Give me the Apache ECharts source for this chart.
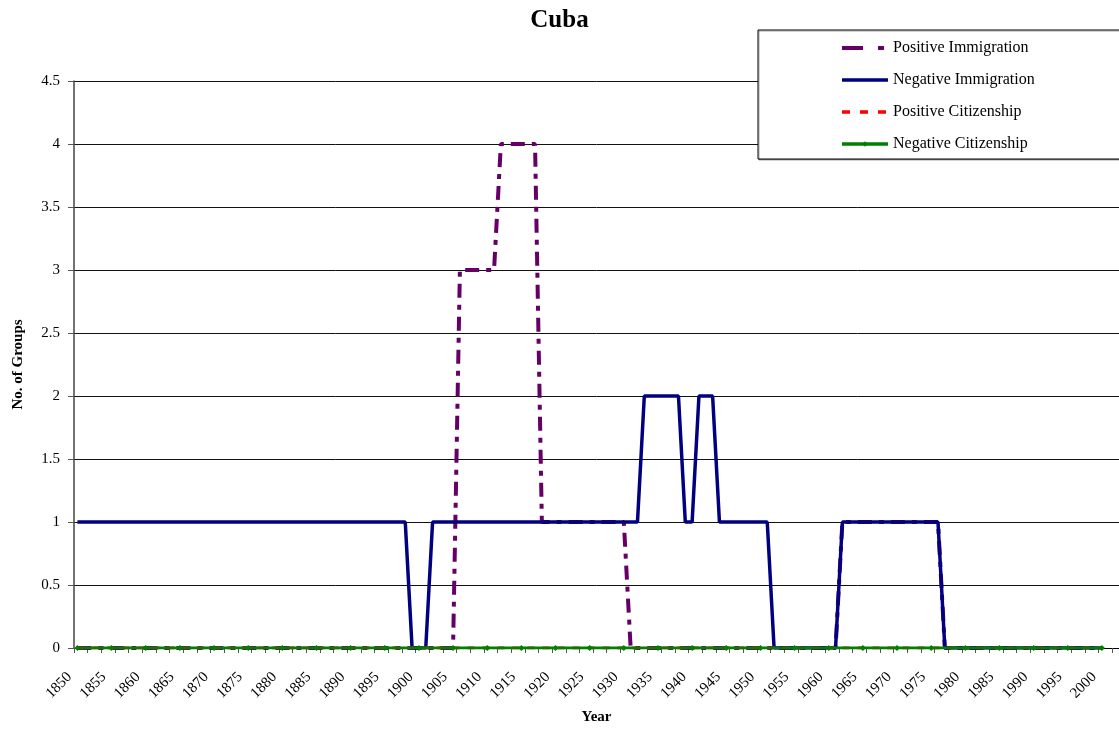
<!DOCTYPE html>
<html>
<head>
<meta charset="utf-8">
<title>Cuba</title>
<script src="https://cdn.jsdelivr.net/npm/echarts@6/dist/echarts.min.js"></script>
<style>
  html, body { margin: 0; padding: 0; background: #fff; }
  #chart { width: 1119px; height: 730px; }
</style>
</head>
<body>
<div id="chart"></div>
<script>
// Year categories (1850–2002); data runs to 2000
const years = [
  '1850','1851','1852','1853','1854','1855','1856','1857','1858','1859',
  '1860','1861','1862','1863','1864','1865','1866','1867','1868','1869',
  '1870','1871','1872','1873','1874','1875','1876','1877','1878','1879',
  '1880','1881','1882','1883','1884','1885','1886','1887','1888','1889',
  '1890','1891','1892','1893','1894','1895','1896','1897','1898','1899',
  '1900','1901','1902','1903','1904','1905','1906','1907','1908','1909',
  '1910','1911','1912','1913','1914','1915','1916','1917','1918','1919',
  '1920','1921','1922','1923','1924','1925','1926','1927','1928','1929',
  '1930','1931','1932','1933','1934','1935','1936','1937','1938','1939',
  '1940','1941','1942','1943','1944','1945','1946','1947','1948','1949',
  '1950','1951','1952','1953','1954','1955','1956','1957','1958','1959',
  '1960','1961','1962','1963','1964','1965','1966','1967','1968','1969',
  '1970','1971','1972','1973','1974','1975','1976','1977','1978','1979',
  '1980','1981','1982','1983','1984','1985','1986','1987','1988','1989',
  '1990','1991','1992','1993','1994','1995','1996','1997','1998','1999',
  '2000','2001','2002'
];

// Number of groups per year, one row per decade
const positiveImmigration = [
  0,0,0,0,0,0,0,0,0,0,
  0,0,0,0,0,0,0,0,0,0,
  0,0,0,0,0,0,0,0,0,0,
  0,0,0,0,0,0,0,0,0,0,
  0,0,0,0,0,0,0,0,0,0,
  0,0,0,0,0,0,3,3,3,3,
  3,3,4,4,4,4,4,4,1,1,
  1,1,1,1,1,1,1,1,1,1,
  1,0,0,0,0,0,0,0,0,0,
  0,0,0,0,0,0,0,0,0,0,
  0,0,0,0,0,0,0,0,0,0,
  0,0,1,1,1,1,1,1,1,1,
  1,1,1,1,1,1,1,0,0,0,
  0,0,0,0,0,0,0,0,0,0,
  0,0,0,0,0,0,0,0,0,0,
  0,null,null
];

const negativeImmigration = [
  1,1,1,1,1,1,1,1,1,1,
  1,1,1,1,1,1,1,1,1,1,
  1,1,1,1,1,1,1,1,1,1,
  1,1,1,1,1,1,1,1,1,1,
  1,1,1,1,1,1,1,1,1,0,
  0,0,1,1,1,1,1,1,1,1,
  1,1,1,1,1,1,1,1,1,1,
  1,1,1,1,1,1,1,1,1,1,
  1,1,1,2,2,2,2,2,2,1,
  1,2,2,2,1,1,1,1,1,1,
  1,1,0,0,0,0,0,0,0,0,
  0,0,1,1,1,1,1,1,1,1,
  1,1,1,1,1,1,1,0,0,0,
  0,0,0,0,0,0,0,0,0,0,
  0,0,0,0,0,0,0,0,0,0,
  0,null,null
];

const positiveCitizenship = [
  0,0,0,0,0,0,0,0,0,0,
  0,0,0,0,0,0,0,0,0,0,
  0,0,0,0,0,0,0,0,0,0,
  0,0,0,0,0,0,0,0,0,0,
  0,0,0,0,0,0,0,0,0,0,
  0,0,0,0,0,0,0,0,0,0,
  0,0,0,0,0,0,0,0,0,0,
  0,0,0,0,0,0,0,0,0,0,
  0,0,0,0,0,0,0,0,0,0,
  0,0,0,0,0,0,0,0,0,0,
  0,0,0,0,0,0,0,0,0,0,
  0,0,0,0,0,0,0,0,0,0,
  0,0,0,0,0,0,0,0,0,0,
  0,0,0,0,0,0,0,0,0,0,
  0,0,0,0,0,0,0,0,0,0,
  0,null,null
];

const negativeCitizenship = [
  0,0,0,0,0,0,0,0,0,0,
  0,0,0,0,0,0,0,0,0,0,
  0,0,0,0,0,0,0,0,0,0,
  0,0,0,0,0,0,0,0,0,0,
  0,0,0,0,0,0,0,0,0,0,
  0,0,0,0,0,0,0,0,0,0,
  0,0,0,0,0,0,0,0,0,0,
  0,0,0,0,0,0,0,0,0,0,
  0,0,0,0,0,0,0,0,0,0,
  0,0,0,0,0,0,0,0,0,0,
  0,0,0,0,0,0,0,0,0,0,
  0,0,0,0,0,0,0,0,0,0,
  0,0,0,0,0,0,0,0,0,0,
  0,0,0,0,0,0,0,0,0,0,
  0,0,0,0,0,0,0,0,0,0,
  0,null,null
];

const FONT = '"Liberation Serif", "Times New Roman", serif';
const PURPLE = '#660066';
const NAVY = '#000080';
const RED = '#ff0000';
const GREEN = '#008000';

const chart = echarts.init(document.getElementById('chart'), null, { renderer: 'canvas' });

chart.setOption({
  animation: false,
  backgroundColor: '#ffffff',
  textStyle: { fontFamily: FONT, color: '#000' },
  title: {
    text: 'Cuba',
    left: 'center',
    top: 3,
    textStyle: { fontFamily: FONT, fontSize: 25, fontWeight: 'bold', color: '#000' }
  },
  legend: {
    orient: 'vertical',
    left: 758,
    top: 30,
    padding: [10, 100, 7, 82],
    itemGap: 16,
    itemWidth: 46,
    itemHeight: 7,
    borderColor: '#000',
    borderWidth: 1,
    backgroundColor: '#fff',
    shadowColor: 'rgba(0,0,0,0.35)',
    shadowOffsetX: 1,
    shadowOffsetY: 1,
    lineStyle: { width: 'inherit' },
    textStyle: { fontFamily: FONT, fontSize: 16, color: '#000' },
    data: [
      { name: 'Positive Immigration', itemStyle: { opacity: 0 },
        lineStyle: { color: PURPLE, width: 4, type: [21, 15, 6, 20] } },
      { name: 'Negative Immigration', itemStyle: { opacity: 0 },
        lineStyle: { color: NAVY, width: 3.5, type: 'solid' } },
      { name: 'Positive Citizenship', itemStyle: { opacity: 0 },
        lineStyle: { color: RED, width: 3.5, type: [8, 10] } },
      { name: 'Negative Citizenship',
        lineStyle: { color: GREEN, width: 3.5, type: 'solid' } }
    ]
  },
  grid: { left: 74, right: 0, top: 81, bottom: 82, containLabel: false },
  xAxis: {
    type: 'category',
    data: years,
    boundaryGap: true,
    name: 'Year',
    nameLocation: 'middle',
    nameGap: 62,
    nameTextStyle: { fontFamily: FONT, fontSize: 15, fontWeight: 'bold', color: '#000' },
    axisLine: { lineStyle: { color: '#000', width: 1 } },
    axisTick: { show: true, interval: 1, length: 5, lineStyle: { color: '#555' } },
    axisLabel: {
      interval: 4,
      rotate: 45,
      margin: 19,
      padding: [0, 11, 0, 0],
      fontFamily: FONT,
      fontSize: 15,
      color: '#000'
    },
    splitLine: { show: false }
  },
  yAxis: {
    type: 'value',
    min: 0,
    max: 4.5,
    interval: 0.5,
    name: 'No. of Groups',
    nameLocation: 'middle',
    nameGap: 48,
    nameTextStyle: { fontFamily: FONT, fontSize: 15, fontWeight: 'bold', color: '#000' },
    axisLine: { show: true, lineStyle: { color: '#444', width: 1.5 } },
    axisTick: { show: true, length: 6, lineStyle: { color: '#555' } },
    axisLabel: { margin: 14, fontFamily: FONT, fontSize: 15, color: '#000' },
    splitLine: { show: true, lineStyle: { color: '#111', width: 1 } }
  },
  series: [
    {
      name: 'Positive Immigration',
      type: 'line',
      data: positiveImmigration,
      showSymbol: false,
      symbol: 'none',
      lineStyle: { color: PURPLE, width: 4, type: [14, 7, 5, 7] },
      itemStyle: { color: PURPLE }
    },
    {
      name: 'Negative Immigration',
      type: 'line',
      data: negativeImmigration,
      showSymbol: false,
      symbol: 'none',
      lineStyle: { color: NAVY, width: 3.5, type: 'solid' },
      itemStyle: { color: NAVY }
    },
    {
      name: 'Positive Citizenship',
      type: 'line',
      data: positiveCitizenship,
      showSymbol: false,
      symbol: 'none',
      lineStyle: { color: RED, width: 3, type: [7, 8] },
      itemStyle: { color: RED }
    },
    {
      name: 'Negative Citizenship',
      type: 'line',
      data: negativeCitizenship,
      symbol: 'diamond',
      symbolSize: 6,
      showSymbol: true,
      lineStyle: { color: GREEN, width: 3 },
      itemStyle: { color: GREEN }
    }
  ]
});
</script>
</body>
</html>
